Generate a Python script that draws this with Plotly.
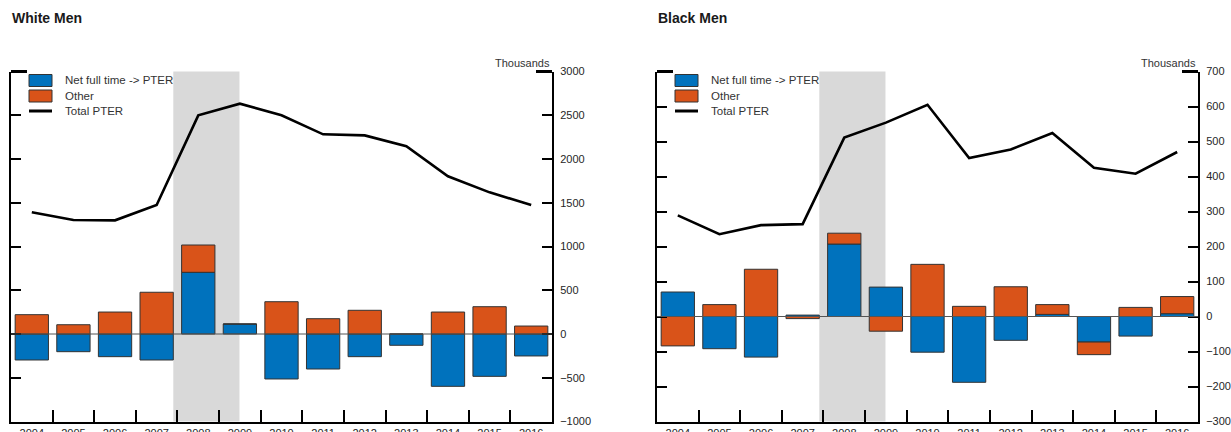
import plotly.graph_objects as go

years = ["2004", "2005", "2006", "2007", "2008", "2009", "2010",
         "2011", "2012", "2013", "2014", "2015", "2016"]

white_net = [-297, -202, -259, -297, 705, 114, -514, -400, -259, -129, -598, -484, -251]
white_other = [221, 106, 251, 477, 312, 0, 369, 175, 271, 0, 251, 312, 91]
white_total = [1391, 1303, 1299, 1474, 2499, 2632, 2500, 2282, 2270, 2145, 1802, 1619, 1475]

black_net = [70, -92, -116, 4, 207, 84, -102, -188, -68, 6, -73, -56, 8]
black_other = [-84, 34, 135, -6, 31, -42, 149, 29, 85, 28, -36, 26, 49]
black_total = [289, 235, 261, 264, 511, 554, 605, 453, 477, 524, 425, 408, 470]

panel_titles = ["White Men", "Black Men"]
series_names = ["Net full time -> PTER", "Other", "Total PTER"]
recession = [3.4, 4.99]  # category-index span of the shaded recession
y_ranges = [[-1000, 3000], [-300, 700]]
y_dticks = [500, 100]

BLUE = "#0072BD"
ORANGE = "#D95319"
FONT = "Liberation Sans, Arial, Helvetica, sans-serif"

W, H = 1231, 432
def px(x):
    return x / W
def py(y):
    return 1 - y / H

left_edges = [11, 657]
plot_w = 541
top_px, bot_px = 71.5, 421.5

fig = go.Figure()

panels = [(white_net, white_other, white_total), (black_net, black_other, black_total)]
shapes = []
annotations = []
for i, (net, other, total) in enumerate(panels):
    xa = "x" if i == 0 else "x2"
    ya = "y" if i == 0 else "y2"
    fig.add_trace(go.Bar(x=years, y=net, name=series_names[0], marker=dict(color=BLUE, line=dict(color="#333333", width=1)),
                         xaxis=xa, yaxis=ya, showlegend=False))
    fig.add_trace(go.Bar(x=years, y=other, name=series_names[1], marker=dict(color=ORANGE, line=dict(color="#333333", width=1)),
                         xaxis=xa, yaxis=ya, showlegend=False))
    fig.add_trace(go.Scatter(x=years, y=total, name=series_names[2], mode="lines", line=dict(color="black", width=2.6),
                             xaxis=xa, yaxis=ya, showlegend=False))

    x0 = left_edges[i]
    dom_x = [px(x0), px(x0 + plot_w)]
    dom_y = [py(bot_px), py(top_px)]
    axsuffix = "" if i == 0 else "2"
    fig.update_layout(**{
        "xaxis" + axsuffix: dict(domain=dom_x, anchor=ya, type="category", range=[-0.5, 12.5],
                                 ticks="inside", tickson="boundaries", ticklen=12, tickwidth=2, tickcolor="black",
                                 showline=True, linewidth=2, linecolor="black", showgrid=False, zeroline=False,
                                 tickfont=dict(size=11, color="#262626", family=FONT), ticklabelstandoff=0),
        "yaxis" + axsuffix: dict(domain=dom_y, anchor=xa, side="right", range=y_ranges[i], dtick=y_dticks[i],
                                 ticks="inside", ticklen=10, tickwidth=2, tickcolor="black",
                                 showline=True, linewidth=2, linecolor="black", mirror="ticks",
                                 showgrid=False, zeroline=False,
                                 tickfont=dict(size=11, color="#262626", family=FONT), ticklabelstandoff=4),
    })

    # recession shading
    shapes.append(dict(type="rect", xref=xa, yref=ya + " domain", x0=recession[0], x1=recession[1], y0=0, y1=1,
                       fillcolor="#d9d9d9", line=dict(width=0), layer="below"))
    # zero reference line
    shapes.append(dict(type="line", xref=xa + " domain", yref=ya, x0=0, x1=1, y0=0, y1=0,
                       line=dict(color="#555555", width=1), layer="above"))
    # top corner ticks
    shapes.append(dict(type="line", xref="paper", yref="paper", x0=px(x0), x1=px(x0 + 16), y0=py(top_px), y1=py(top_px),
                       line=dict(color="black", width=3)))
    shapes.append(dict(type="line", xref="paper", yref="paper", x0=px(x0 + plot_w - 16), x1=px(x0 + plot_w),
                       y0=py(top_px), y1=py(top_px), line=dict(color="black", width=3)))

    # legend (drawn manually to match swatch sizes)
    sx0, sx1 = x0 + 18, x0 + 41
    tx = x0 + 52
    rows = [80.5, 96, 111]
    shapes.append(dict(type="rect", xref="paper", yref="paper", x0=px(sx0), x1=px(sx1), y0=py(rows[0] + 6), y1=py(rows[0] - 6),
                       fillcolor=BLUE, line=dict(color="#333333", width=1)))
    shapes.append(dict(type="rect", xref="paper", yref="paper", x0=px(sx0), x1=px(sx1), y0=py(rows[1] + 6), y1=py(rows[1] - 6),
                       fillcolor=ORANGE, line=dict(color="#333333", width=1)))
    shapes.append(dict(type="line", xref="paper", yref="paper", x0=px(sx0), x1=px(sx1), y0=py(rows[2]), y1=py(rows[2]),
                       line=dict(color="black", width=3)))
    for name, ry in zip(series_names, rows):
        annotations.append(dict(text=name, xref="paper", yref="paper", x=px(tx), y=py(ry), xanchor="left", yanchor="middle",
                                showarrow=False, font=dict(size=11.5, color="#333333", family=FONT)))

    # panel title
    annotations.append(dict(text="<b>" + panel_titles[i] + "</b>", xref="paper", yref="paper", x=px(x0 - 1), y=py(18),
                            xanchor="left", yanchor="middle", showarrow=False,
                            font=dict(size=14, color="#1a1a1a", family=FONT)))
    # units label
    annotations.append(dict(text="Thousands", xref="paper", yref="paper", x=px(x0 + plot_w), y=py(62.5),
                            xanchor="right", yanchor="middle", showarrow=False,
                            font=dict(size=11, color="#333333", family=FONT)))

fig.update_layout(
    width=W, height=H,
    margin=dict(l=0, r=0, t=0, b=0, autoexpand=False),
    barmode="relative", bargap=0.2,
    plot_bgcolor="white", paper_bgcolor="white",
    shapes=shapes, annotations=annotations,
    font=dict(family=FONT),
    showlegend=False,
)

fig.write_html("out.html", config={"displayModeBar": False},
               post_script="document.body.style.margin='0';document.body.style.overflow='hidden';")
